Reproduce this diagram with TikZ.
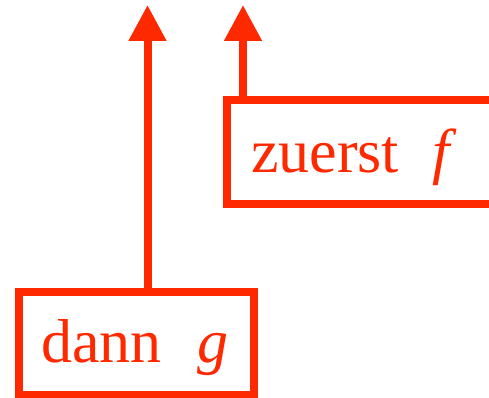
\documentclass[tikz,border=0pt]{standalone}
\usepackage{fontspec}
\setmainfont{Liberation Serif}
\usetikzlibrary{arrows.meta}
\definecolor{signal}{RGB}{255,41,0}
\begin{document}
\begin{tikzpicture}[x=1pt,y=-1pt,
  box/.style={draw=signal, line width=8pt, outer sep=0pt, inner ysep=0pt, align=left,
    text=signal, font=\fontsize{62}{70}\selectfont},
  uparrow/.style={draw=signal, line width=8pt, -{Triangle[width=36pt,length=36pt]}}]
\useasboundingbox (0,0) rectangle (489,398);
\clip (0,0) rectangle (489,398);
\node[box, minimum width=235pt, minimum height=103pt, inner xsep=22pt, text width=191pt,
  text height=55pt, text depth=18pt] (dann) at (136.5,343.5) {dann\hspace{36pt}\textit{g}};
\node[box, minimum width=293pt, minimum height=104pt, inner xsep=24pt, text width=245pt,
  text height=57pt, text depth=17pt] (zuerst) at (373.5,152) {zuerst\hspace{33pt}\textit{f}};
\coordinate (t1) at (147.5,5);
\coordinate (t2) at (243,5);
\draw[uparrow] (t1 |- dann.north) -- (t1);
\draw[uparrow] (t2 |- zuerst.north) -- (t2);
\end{tikzpicture}
\end{document}
